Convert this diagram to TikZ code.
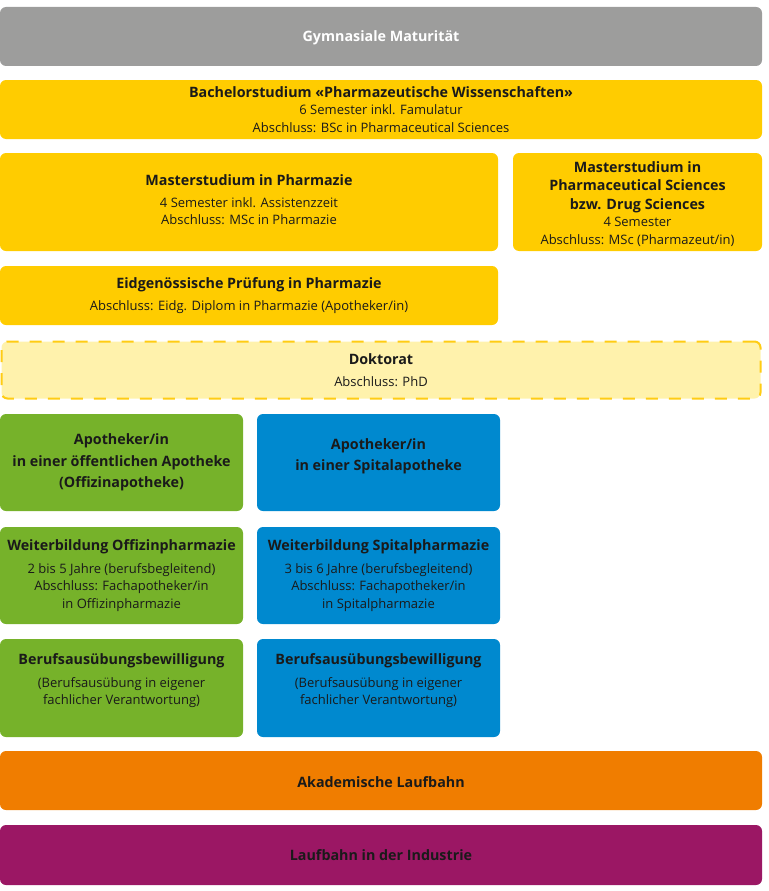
\documentclass[tikz,border=0pt]{standalone}
\usepackage{fontspec}
\setmainfont{Open Sans}
\definecolor{cgray}{RGB}{157,157,156}
\definecolor{cyel}{RGB}{255,204,0}
\definecolor{clyel}{RGB}{255,242,172}
\definecolor{cdash}{RGB}{255,204,20}
\definecolor{cgreen}{RGB}{118,178,42}
\definecolor{cblue}{RGB}{0,137,207}
\definecolor{corange}{RGB}{240,125,0}
\definecolor{cpurple}{RGB}{155,23,100}
\definecolor{ctext}{RGB}{26,26,26}
\newcommand\mytitle[1]{{\fontsize{14.3}{19}\selectfont\bfseries #1}}
\begin{document}
\begin{tikzpicture}[x=1pt,y=-1pt,
  box/.style={rounded corners=6pt, inner sep=0pt, align=center, text=ctext,
    font=\fontsize{13}{17.5}\selectfont},
  wide/.style={box, minimum width=762pt},
  txt/.style={inner sep=0pt, align=center, text=ctext, font=\fontsize{13}{17.5}\selectfont}]
\useasboundingbox (0,0) rectangle (768,891);
\node[wide, fill=cgray, minimum height=59pt] (gym) at (381,36.5) {};
\node[txt, text=white] (gymt) at ([yshift=-1.5pt]gym.center) {\mytitle{Gymnasiale Maturität}};
\node[wide, fill=cyel, minimum height=59pt] (bach) at (381,109.5) {\mytitle{Bachelorstudium «Pharmazeutische Wissenschaften»}\\6 Semester inkl. Famulatur\\Abschluss: BSc in Pharmaceutical Sciences};
\node[box, fill=cyel, minimum width=498pt, minimum height=98pt] (mph) at (249,202) {};
\node[txt] (mpht) at ([yshift=2pt]mph.center) {\mytitle{Masterstudium in Pharmazie}\\[4pt]4 Semester inkl. Assistenzzeit\\Abschluss: MSc in Pharmazie};
\node[box, fill=cyel, minimum width=249pt, minimum height=98pt] (mps) at (637.5,202) {};
\node[txt] (mpst) at ([yshift=-2pt]mps.center) {\mytitle{Masterstudium in}\\[1pt]\mytitle{Pharmaceutical Sciences}\\[1pt]\mytitle{bzw. Drug Sciences}\\4 Semester\\Abschluss: MSc (Pharmazeut/in)};
\node[box, fill=cyel, minimum width=498pt, minimum height=59pt] (eidg) at (249,295.5) {\mytitle{Eidgenössische Prüfung in Pharmazie}\\[5pt]Abschluss: Eidg. Diplom in Pharmazie (Apotheker/in)};
\node[box, fill=clyel, draw=cdash, line width=2pt, dash pattern=on 12pt off 11pt, minimum width=759pt, minimum height=57pt] (dok) at (381,370) {\mytitle{Doktorat}\\[5pt]Abschluss: PhD};
\node[box, fill=cgreen, minimum width=243pt, minimum height=97pt] (apoA) at (121.5,462.5) {\mytitle{Apotheker/in}\\[4pt]\mytitle{in einer öffentlichen Apotheke}\\[4pt]\mytitle{(Offizinapotheke)}};
\node[box, fill=cblue, minimum width=243pt, minimum height=97pt] (apoB) at (378.5,462.5) {};
\node[txt] (apoBt) at ([yshift=6pt]apoB.center) {\mytitle{Apotheker/in}\\[4pt]\mytitle{in einer Spitalapotheke}};
\node[box, fill=cgreen, minimum width=243pt, minimum height=97pt] (weiA) at (121.5,575.5) {\mytitle{Weiterbildung Offizinpharmazie}\\[5pt]2 bis 5 Jahre (berufsbegleitend)\\Abschluss: Fachapotheker/in\\in Offizinpharmazie};
\node[box, fill=cblue, minimum width=243pt, minimum height=97pt] (weiB) at (378.5,575.5) {\mytitle{Weiterbildung Spitalpharmazie}\\[5pt]3 bis 6 Jahre (berufsbegleitend)\\Abschluss: Fachapotheker/in\\in Spitalpharmazie};
\node[box, fill=cgreen, minimum width=243pt, minimum height=98pt] (berA) at (121.5,688) {};
\node[box, fill=cblue, minimum width=243pt, minimum height=98pt] (berB) at (378.5,688) {};
\node[txt] (berAt) at ([yshift=7pt]berA.center) {\mytitle{Berufsausübungsbewilligung}\\[5pt](Berufsausübung in eigener\\fachlicher Verantwortung)};
\node[txt] (berBt) at ([yshift=7pt]berB.center) {\mytitle{Berufsausübungsbewilligung}\\[5pt](Berufsausübung in eigener\\fachlicher Verantwortung)};
\node[wide, fill=corange, minimum height=59pt] (aka) at (381,780.5) {};
\node[txt] (akat) at ([yshift=-1.5pt]aka.center) {\mytitle{Akademische Laufbahn}};
\node[wide, fill=cpurple, minimum height=60pt] (ind) at (381,855) {\mytitle{Laufbahn in der Industrie}};
\end{tikzpicture}
\end{document}
